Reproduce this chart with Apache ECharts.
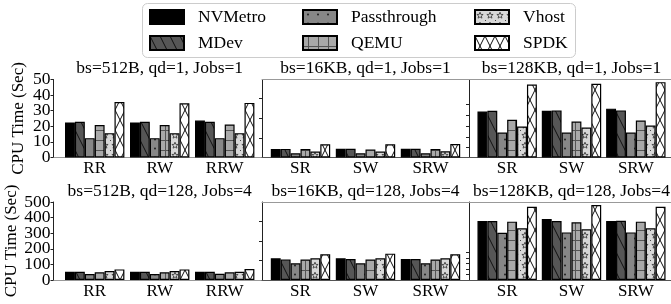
<!DOCTYPE html>
<html>
<head>
<meta charset="utf-8">
<script src="https://cdn.jsdelivr.net/npm/echarts@6/dist/echarts.min.js"></script>
<style>
  html, body { margin: 0; padding: 0; background: #fff; }
  #chart { width: 671px; height: 304px; }
</style>
</head>
<body>
<div id="chart"></div>
<script>
var chart = echarts.init(document.getElementById('chart'));

// categories and series
const categoriesRand = ['RR', 'RW', 'RRW'];
const categoriesSeq = ['SR', 'SW', 'SRW'];
const seriesNames = ['NVMetro', 'MDev', 'Passthrough', 'QEMU', 'Vhost', 'SPDK'];
const titles = [
  'bs=512B, qd=1, Jobs=1', 'bs=16KB, qd=1, Jobs=1', 'bs=128KB, qd=1, Jobs=1',
  'bs=512B, qd=128, Jobs=4', 'bs=16KB, qd=128, Jobs=4', 'bs=128KB, qd=128, Jobs=4'
];

// one row per series (NVMetro, MDev, Passthrough, QEMU, Vhost, SPDK), one column per category
const bs512_qd1 = [[22.5, 22.5, 23.7], [22.9, 22.9, 22.9], [12.4, 12.4, 12.4], [20.8, 20.8, 21.2], [15.6, 15.6, 15.6], [35.6, 34.8, 35]];
const bs16k_qd1 = [[5.5, 5.6, 5.6], [5.5, 5.6, 5.6], [2.7, 2.7, 2.7], [5.4, 5.2, 5.4], [3.8, 3.8, 4], [8.5, 8.5, 8.7]];
const bs128k_qd1 = [[29.5, 30, 31.3], [30, 30.2, 30.2], [16, 16, 16], [24.2, 23.1, 23.7], [19.9, 19.2, 20.5], [46.8, 47.2, 48.3]];
const bs512_qd128 = [[53, 53, 53], [53, 53, 53], [38, 38, 40], [49, 49, 49], [58, 58, 53], [68, 68, 70]];
const bs16k_qd128 = [[139, 139, 134], [132, 134, 134], [107, 107, 107], [132, 132, 132], [139, 139, 139], [165, 169, 165]];
const bs128k_qd128 = [[378, 391, 378], [378, 378, 380], [303, 305, 305], [374, 370, 374], [331, 325, 331], [470, 481, 470]];

// tick labels and tick positions (the unlabelled panels have their own minor ticks)
const yTicksTop = [0, 10, 20, 30, 40, 50];
const yTicksBottom = [0, 100, 200, 300, 400, 500];
const ticksTopMid = [12.6, 25.4, 37.8];
const ticksTopRight = [6.6, 13.2, 20.1, 27, 33.9];
const ticksBotMid = [124, 250, 374];
const ticksBotRight = [38, 72, 107, 141, 175];

const FONT = 'Liberation Serif';

// hatch fills
function tile(w, h, bg, draw) {
  const c = document.createElement('canvas');
  c.width = w; c.height = h;
  const g = c.getContext('2d');
  g.fillStyle = bg;
  g.fillRect(0, 0, w, h);
  draw(g, w, h);
  return { image: c, repeat: 'repeat' };
}
function slash(g, w, h, dir) {
  for (const dx of [-w, 0, w]) {
    g.beginPath();
    if (dir > 0) { g.moveTo(dx - w, -h); g.lineTo(dx + 2 * w, 2 * h); }
    else { g.moveTo(dx + 2 * w, -h); g.lineTo(dx - w, 2 * h); }
    g.stroke();
  }
}
const fills = [
  '#000',
  tile(10, 20, '#565656', function (g, w, h) { g.strokeStyle = '#111'; g.lineWidth = 1; slash(g, w, h, 1); }),
  tile(10, 9, '#878787', function (g) { g.fillStyle = '#222'; g.beginPath(); g.arc(5, 4.5, 1, 0, Math.PI * 2); g.fill(); }),
  tile(10, 10, '#a9a9a9', function (g) {
    g.strokeStyle = '#555'; g.lineWidth = 1;
    g.beginPath(); g.moveTo(0, 0.5); g.lineTo(10, 0.5); g.moveTo(5.5, 0); g.lineTo(5.5, 10); g.stroke();
  }),
  tile(10, 10, '#d8d8d8', function (g) {
    g.strokeStyle = '#333'; g.lineWidth = 0.8; g.beginPath();
    for (let i = 0; i < 10; i++) {
      const r = i % 2 ? 1.4 : 3.3, a = -Math.PI / 2 + i * Math.PI / 5;
      const x = 5 + r * Math.cos(a), y = 5.5 + r * Math.sin(a);
      i ? g.lineTo(x, y) : g.moveTo(x, y);
    }
    g.closePath(); g.stroke();
    g.fillStyle = '#444'; g.fillRect(0, 0, 1, 1);
  }),
  tile(10, 20, '#fff', function (g, w, h) { g.strokeStyle = '#111'; g.lineWidth = 1; slash(g, w, h, 1); slash(g, w, h, -1); })
];

// layout
const rowTop = [79.5, 202], rowH = 78;
const frameLeft = [53.5, 262, 469], frameW = [208.5, 207, 212];
const dataLeft = [62.2, 268, 475], dataW = [195, 195, 193];

const panels = [
  { data: bs512_qd1, cats: categoriesRand, labels: yTicksTop },
  { data: bs16k_qd1, cats: categoriesSeq, max: 50, ticks: ticksTopMid },
  { data: bs128k_qd1, cats: categoriesSeq, max: 50, ticks: ticksTopRight },
  { data: bs512_qd128, cats: categoriesRand, labels: yTicksBottom },
  { data: bs16k_qd128, cats: categoriesSeq, max: 500, ticks: ticksBotMid },
  { data: bs128k_qd128, cats: categoriesSeq, max: 500, ticks: ticksBotRight }
];

let option = {
  animation: false,
  textStyle: { fontFamily: FONT },
  title: [], grid: [], xAxis: [], yAxis: [], series: [], legend: [],
  graphic: [{
    type: 'rect', left: 142, top: 3, z: -1,
    shape: { width: 433, height: 54, r: 5 },
    style: { fill: '#fff', stroke: '#cccccc', lineWidth: 1 }
  }]
};

const hidden = { show: false };
const tickLabel = { color: '#000', fontFamily: FONT, fontSize: 17.5, margin: 3, hideOverlap: false };

panels.forEach(function (p, i) {
  const r = Math.floor(i / 3), c = i % 3;
  const yMax = p.labels ? p.labels[p.labels.length - 1] : p.max;

  // frame: spines and ticks
  option.grid.push({ left: frameLeft[c], top: rowTop[r], width: frameW[c], height: rowH });
  // data area
  option.grid.push({ left: dataLeft[c], top: rowTop[r], width: dataW[c], height: rowH });
  const fg = 2 * i, dg = 2 * i + 1;

  option.xAxis.push({
    type: 'value', gridIndex: fg, min: 0, max: 1, position: 'bottom',
    axisLine: { lineStyle: { color: '#555', width: 1 } },
    axisTick: hidden, axisLabel: hidden, splitLine: hidden
  });
  option.xAxis.push({
    type: 'value', gridIndex: fg, min: 0, max: 1, position: 'top',
    axisLine: { lineStyle: { color: '#999', width: 1 } },
    axisTick: hidden, axisLabel: hidden, splitLine: hidden
  });
  const catIndex = option.xAxis.length;
  option.xAxis.push({
    type: 'category', gridIndex: dg, data: p.cats,
    axisLine: hidden, axisTick: hidden, splitLine: hidden,
    axisLabel: { color: '#000', fontFamily: FONT, fontSize: 17, margin: 3 }
  });

  const yFrame = {
    type: 'value', gridIndex: fg, min: 0, max: yMax, position: 'left',
    axisLine: { show: true, lineStyle: { color: '#222', width: 1 } },
    axisTick: { show: true, inside: false, length: 3, lineStyle: { color: '#222' } },
    splitLine: hidden
  };
  const yData = { type: 'value', gridIndex: dg, min: 0, max: yMax, splitLine: hidden };

  if (p.labels) {
    // labels are spread over three axes so that none of them is dropped for overlapping
    const inner = p.labels.slice(1, -1);
    yFrame.axisTick.customValues = p.labels;
    yFrame.axisLabel = Object.assign({ customValues: inner.filter(function (v, k) { return k % 2 === 0; }) }, tickLabel);
    yFrame.name = 'CPU Time (Sec)';
    yFrame.nameLocation = 'middle';
    yFrame.nameGap = 26;
    yFrame.nameTextStyle = { color: '#000', fontFamily: FONT, fontSize: 17 };
    option.yAxis.push(yFrame);
    option.yAxis.push({
      type: 'value', gridIndex: fg, min: 0, max: yMax, position: 'left', offset: 0,
      axisLine: hidden, axisTick: hidden, splitLine: hidden,
      axisLabel: Object.assign({ customValues: inner.filter(function (v, k) { return k % 2 === 1; }) }, tickLabel)
    });
    yData.interval = yMax;
    yData.position = 'left';
    yData.offset = dataLeft[c] - frameLeft[c];
    yData.axisLine = hidden;
    yData.axisTick = hidden;
    yData.axisLabel = Object.assign({ showMinLabel: true, showMaxLabel: true }, tickLabel);
  } else {
    yFrame.axisLabel = hidden;
    yFrame.axisTick.customValues = p.ticks;
    yData.show = false;
    option.yAxis.push(yFrame);
  }
  const valIndex = option.yAxis.length;
  option.yAxis.push(yData);

  option.title.push({
    text: titles[i], left: dataLeft[c] + dataW[c] / 2, top: rowTop[r] - 20, textAlign: 'center', padding: 0,
    textStyle: { color: '#000', fontFamily: FONT, fontSize: 17.5, fontWeight: 'normal' }
  });

  seriesNames.forEach(function (name, s) {
    option.series.push({
      name: name, type: 'bar', xAxisIndex: catIndex, yAxisIndex: valIndex,
      data: p.data[s], barWidth: 9.9, barGap: '0%',
      itemStyle: { color: fills[s], borderColor: '#000', borderWidth: 1.2 },
      emphasis: { disabled: true }
    });
  });
});

// legend in three columns, two rows
const legendSpots = [[149, 8], [149, 34], [302, 8], [302, 34], [474, 8], [474, 34]];
const legendOrder = ['NVMetro', 'MDev', 'Passthrough', 'QEMU', 'Vhost', 'SPDK'];
legendOrder.forEach(function (name, k) {
  option.legend.push({
    data: [name], left: legendSpots[k][0], top: legendSpots[k][1], padding: 0,
    icon: 'rect', itemWidth: 34, itemHeight: 14, selectedMode: false,
    textStyle: { color: '#000', fontFamily: FONT, fontSize: 17.5, padding: [0, 0, 0, 9] }
  });
});

chart.setOption(option);
</script>
</body>
</html>
